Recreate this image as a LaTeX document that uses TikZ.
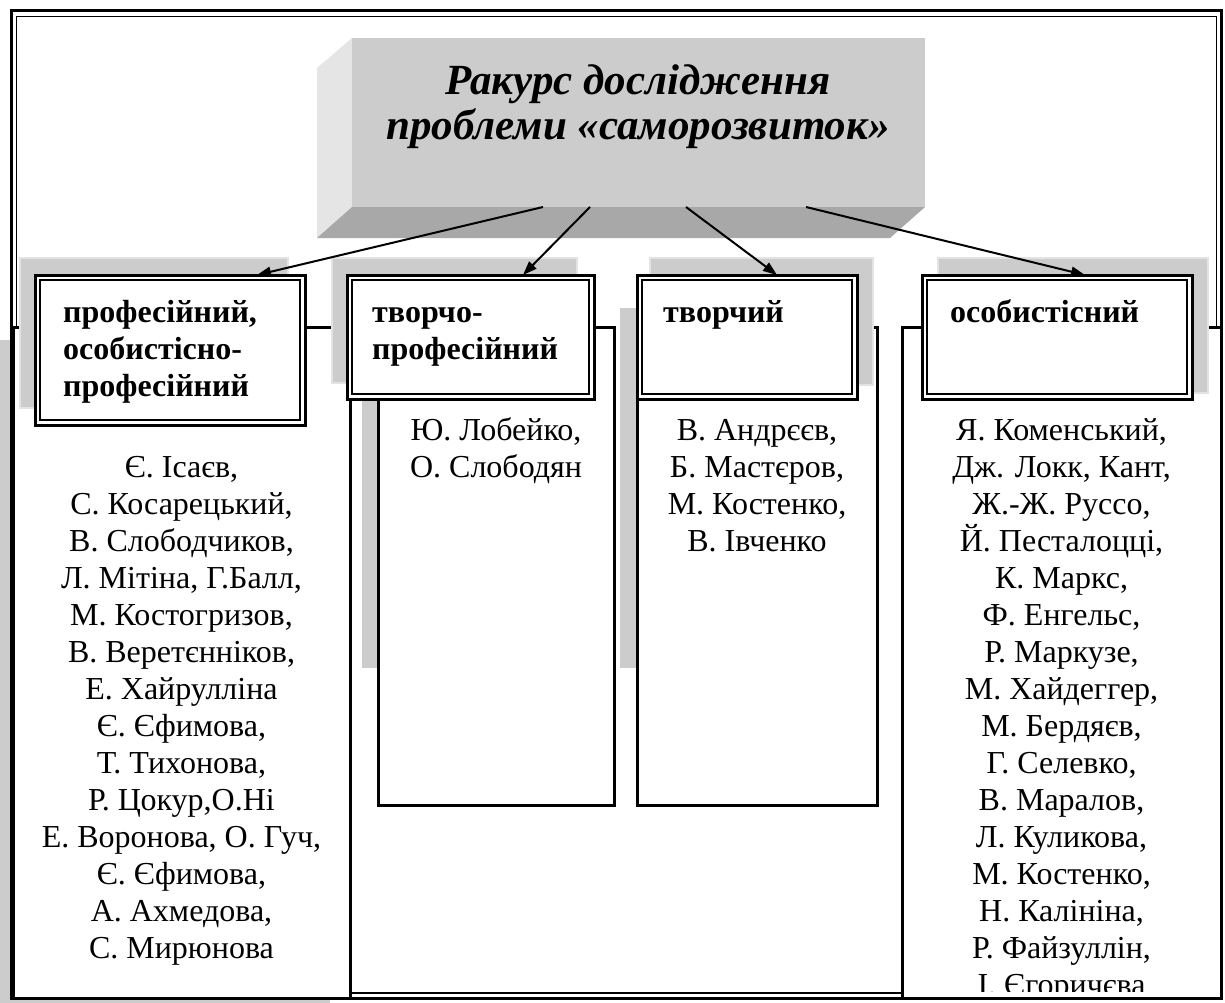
\documentclass[tikz,border=0pt]{standalone}
\usepackage{fontspec}
\setmainfont{Liberation Serif}
\usetikzlibrary{arrows.meta}

\definecolor{shadowgray}{gray}{0.80}
\definecolor{shadowrim}{gray}{0.89}
\definecolor{facefront}{gray}{0.80}
\definecolor{faceside}{gray}{0.90}
\definecolor{facebottom}{gray}{0.66}

\tikzset{
  colbox/.style={rectangle, draw=black, line width=3pt, fill=white, inner sep=0pt, outer sep=0pt, anchor=north west},
  hdrbox/.style={rectangle, draw=black, line width=3pt, fill=white, inner sep=0pt, outer sep=0pt, anchor=north west},
  hdrinner/.style={draw=black, line width=1.8pt},
  hdrshadow/.style={fill=shadowgray, draw=shadowrim, line width=2.5pt},
  link/.style={line width=2pt, -{Triangle[length=14pt,width=10pt]}},
  hdrtext/.style={font=\fontsize{32}{37}\selectfont\bfseries, anchor=base west, inner sep=0pt},
  nametext/.style={font=\fontsize{32}{37}\selectfont, anchor=base, inner sep=0pt},
  titletext/.style={font=\fontsize{43}{47}\selectfont\bfseries\itshape, anchor=base, inner sep=0pt},
}

\begin{document}
\begin{tikzpicture}[x=1pt,y=-1pt]
\useasboundingbox (0,0) rectangle (1225,1003);
\fill[white] (0,0) rectangle (1225,1003);

% shadows behind the columns
\fill[shadowgray] (0,340) rectangle (330,1003);
\fill[shadowgray] (362,380) rectangle (598,668);
\fill[shadowgray] (620,308) rectangle (860,668);

% page frame, double line
\draw[line width=3pt] (11,11) rectangle (1221.5,998);
\draw[line width=1.5pt] (16.5,16.5) rectangle (1216.5,993);

% raised title block
\fill[faceside] (352,38) -- (317,68) -- (317,238) -- (352,207) -- cycle;
\fill[facebottom] (352,207) -- (925,207) -- (890,238) -- (317,238) -- cycle;
\node[fill=facefront, minimum width=573pt, minimum height=169pt, anchor=north west, inner sep=0pt, outer sep=0pt] (top) at (352,38) {};
\node[titletext] (title1) at (638,95) {Ракурс дослідження};
\node[titletext] (title2) at (638,140) {проблеми «саморозвиток»};

% columns with the names
\node[colbox, minimum width=337pt, minimum height=671pt] (col1) at (13,327) {};
\node[colbox, minimum width=236pt, minimum height=478pt] (col2) at (378,327) {};
\node[colbox, minimum width=240pt, minimum height=478pt] (col3) at (637,327) {};
\node[colbox, minimum width=319.5pt, minimum height=671pt] (col4) at (902,327) {};

% shadows of the headings
\draw[hdrshadow] (20,258) rectangle (288,408);
\draw[hdrshadow] (332,258) rectangle (577,383);
\draw[hdrshadow] (650,258) rectangle (873,385);
\draw[hdrshadow] (938,258) rectangle (1208,393);

% headings with double border
\node[hdrbox, minimum width=270pt, minimum height=150pt] (h1) at (35,275) {};
\node[hdrbox, minimum width=247pt, minimum height=124pt] (h2) at (347,275) {};
\node[hdrbox, minimum width=220pt, minimum height=124pt] (h3) at (637,275) {};
\node[hdrbox, minimum width=270pt, minimum height=124pt] (h4) at (922,275) {};
\foreach \h in {h1,h2,h3,h4}
  \draw[hdrinner] ([shift={(5,5)}]\h.north west) rectangle ([shift={(-5,-5)}]\h.south east);

% arrows from the title block to the headings
\coordinate (s1) at ([xshift=191pt]top.south west);
\coordinate (s2) at ([xshift=238pt]top.south west);
\coordinate (s3) at ([xshift=334pt]top.south west);
\coordinate (s4) at ([xshift=454pt]top.south west);
\coordinate (e1) at ([xshift=222pt]h1.north west);
\coordinate (e2) at ([xshift=176pt]h2.north west);
\coordinate (e3) at ([xshift=140pt]h3.north west);
\coordinate (e4) at ([xshift=163pt]h4.north west);
\draw[link] (s1) -- (e1);
\draw[link] (s2) -- (e2);
\draw[link] (s3) -- (e3);
\draw[link] (s4) -- (e4);

% heading texts
\node[hdrtext] (h1a) at (63,322) {професійний,};
\node[hdrtext] (h1b) at (63,359) {особистісно-};
\node[hdrtext] (h1c) at (63,396) {професійний};
\node[hdrtext] (h2a) at (372,322) {творчо-};
\node[hdrtext] (h2b) at (372,359) {професійний};
\node[hdrtext] (h3a) at (663,322) {творчий};
\node[hdrtext] (h4a) at (950,322) {особистісний};

% names
\foreach \t [count=\i from 0] in {{Є. Ісаєв,},{С. Косарецький,},{В. Слободчиков,},{Л. Мітіна, Г.Балл,},{М. Костогризов,},{В. Веретєнніков,},{Е. Хайрулліна},{Є. Єфимова,},{Т. Тихонова,},{Р. Цокур,О.Ні},{Е. Воронова, О. Гуч,},{Є. Єфимова,},{А. Ахмедова,},{С. Мирюнова}}
  \node[nametext, name=n1-\i] at (181.5,{477+37*\i}) {\t};

\foreach \t [count=\i from 0] in {{Ю. Лобейко,},{О. Слободян}}
  \node[nametext, name=n2-\i] at (496,{440+37*\i}) {\t};

\foreach \t [count=\i from 0] in {{В. Андрєєв,},{Б. Мастєров,},{М. Костенко,},{В. Івченко}}
  \node[nametext, name=n3-\i] at (757,{440+37*\i}) {\t};

\begin{scope}
  \clip (904,329) rectangle (1220,991);
  \foreach \t [count=\i from 0] in {{Я. Коменський,},{Дж. Локк, Кант,},{Ж.-Ж. Руссо,},{Й. Песталоцці,},{К. Маркс,},{Ф. Енгельс,},{Р. Маркузе,},{М. Хайдеггер,},{М. Бердяєв,},{Г. Селевко,},{В. Маралов,},{Л. Куликова,},{М. Костенко,},{Н. Калініна,},{Р. Файзуллін,},{І. Єгоричєва}}
    \node[nametext, name=n4-\i] at (1061.5,{440+37*\i}) {\t};
\end{scope}
\end{tikzpicture}
\end{document}
